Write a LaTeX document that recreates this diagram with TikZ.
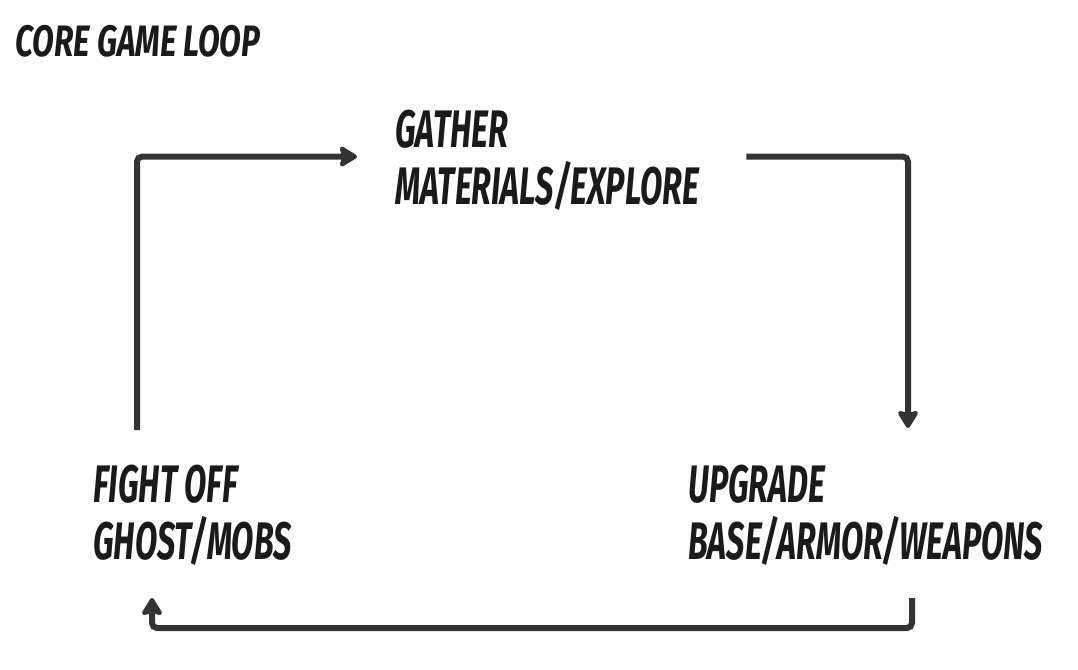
\documentclass[tikz,border=0pt]{standalone}
\usepackage{fontspec}
\setmainfont{Fira Sans}[FakeStretch=0.615]
\newfontfamily\titlefont{Fira Sans}[FakeStretch=0.72]
\usepackage{tikz}
\usetikzlibrary{calc}
\usetikzlibrary{arrows.meta}

\definecolor{lineclr}{HTML}{333333}
\definecolor{textclr}{HTML}{1A1A1A}

\begin{document}
\begin{tikzpicture}[x=0.5pt,y=-0.5pt]
  \tikzset{myedge/.style={-{Stealth[length=10pt,width=12pt,inset=1.5pt,round]}, line width=3pt, draw=lineclr, rounded corners=2.5pt}};
  \tikzset{mytext/.style={anchor=north west, inner sep=0pt, align=left, text=textclr, font=\fontsize{26.4}{28.5}\selectfont\bfseries\itshape}};
  \useasboundingbox (0,0) rectangle (1078,670);

  \node[mytext, font=\titlefont\fontsize{22}{26}\selectfont\bfseries\itshape] (title) at (15,25) {CORE GAME LOOP};
  \node[mytext] (gather) at (395,110) {GATHER\\MATERIALS/EXPLORE};
  \node[mytext] (upgrade) at (688,465) {UPGRADE\\BASE/ARMOR/WEAPONS};
  \node[mytext] (fight) at (93,465) {FIGHT OFF\\GHOST/MOBS};

  \coordinate (gin) at ($(gather.west)+(-38,-4)$);
  \coordinate (gout) at ($(gather.east)+(47,-4)$);
  \coordinate (uin) at ($(upgrade.north west)+(220,-37)$);
  \coordinate (uout) at ($(upgrade.north west)+(224,133)$);
  \coordinate (fin) at ($(fight.north west)+(59,133)$);
  \coordinate (fout) at ($(fight.north west)+(44,-35)$);

  \draw [myedge] (fout) |- (gin);
  \draw [myedge] (gout) -| (uin);
  \draw [myedge] (uout) -- ++(0,30) -| (fin);

\end{tikzpicture}
\end{document}
